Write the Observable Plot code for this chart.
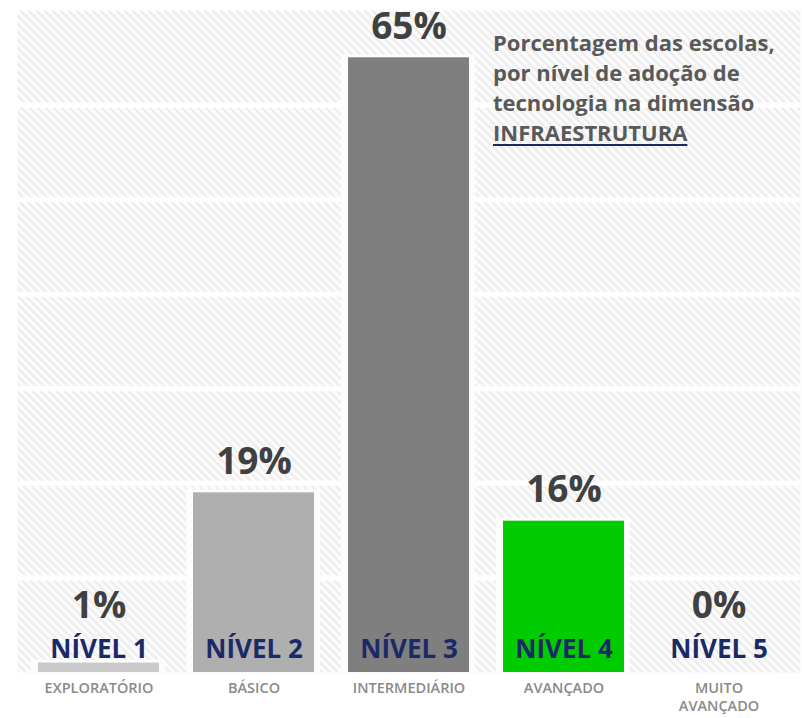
<!DOCTYPE html>
<html>
<head>
<meta charset="utf-8">
<script src="https://cdn.jsdelivr.net/npm/d3@7"></script>
<script src="https://cdn.jsdelivr.net/npm/@observablehq/plot@0.6"></script>
<style>
  html, body { margin: 0; padding: 0; background: #ffffff; }
  #wrap { position: relative; width: 802px; height: 718px; }
  #title {
    position: absolute; left: 493px; top: 27px;
    font-family: "Open Sans", sans-serif; font-weight: 700; font-size: 22px;
    line-height: 30px; color: #595959; white-space: nowrap;
  }
  #title u { text-decoration-color: #1b2a5e; text-decoration-thickness: 2px; text-underline-offset: 3px; }
</style>
</head>
<body>
<div id="wrap">
  <div id="chart"></div>
  <div id="title">Porcentagem das escolas,<br>por nível de adoção de<br>tecnologia na dimensão<br><u>INFRAESTRUTURA</u></div>
</div>
<script>
const levels = ["NÍVEL 1", "NÍVEL 2", "NÍVEL 3", "NÍVEL 4", "NÍVEL 5"];
const categories = ["EXPLORATÓRIO", "BÁSICO", "INTERMEDIÁRIO", "AVANÇADO", "MUITO\nAVANÇADO"];
const values = [1, 19, 65, 16, 0];
const colors = ["#cacaca", "#afafaf", "#7f7f7f", "#00cc00", "#cacaca"];
const gridTicks = [10, 20, 30, 40, 50, 60];

const data = levels.map((level, i) => ({
  level, category: categories[i], value: values[i], color: colors[i]
}));

const font = '"Open Sans", sans-serif';

const chart = Plot.plot({
  width: 802,
  height: 718,
  marginLeft: 17,
  marginRight: 2,
  marginTop: 10,
  marginBottom: 46,
  style: { fontFamily: font, background: "#ffffff" },
  x: { domain: levels, paddingInner: 0.218, paddingOuter: 0.12, axis: null },
  y: { domain: [0, 70], axis: null },
  marks: [
    Plot.frame({ fill: "url(#hatch)", stroke: null }),
    Plot.ruleY(gridTicks, { stroke: "#ffffff", strokeWidth: 5 }),
    Plot.barY(data.filter(d => d.value > 0), { x: "level", y: "value", fill: "#fdfdfd", insetLeft: -7, insetRight: -6, insetTop: -3 }),
    Plot.barY(data, { x: "level", y: "value", fill: "color" }),
    Plot.text(data, {
      x: "level", y: d => Math.max(d.value, 3.7), text: d => `${d.value}%`,
      dy: -31, lineAnchor: "middle", fontSize: 37, fontWeight: 700, fill: "#404040"
    }),
    Plot.text(data, {
      x: "level", text: "level", frameAnchor: "bottom", dy: -23, lineAnchor: "middle",
      fontSize: 26, fontWeight: 700, fill: "#1b2a66"
    }),
    Plot.text(data, {
      x: "level", text: "category", frameAnchor: "bottom", dy: 8, lineAnchor: "top",
      lineHeight: 1.22, fontSize: 14.5, fontWeight: 600, fill: "#8a8a8a"
    })
  ]
});

// hatch pattern for the plot background
const svg = d3.select(chart);
const defs = svg.insert("defs", ":first-child");
const pat = defs.append("pattern")
  .attr("id", "hatch")
  .attr("patternUnits", "userSpaceOnUse")
  .attr("width", 5.66).attr("height", 5.66)
  .attr("patternTransform", "rotate(-45)");
pat.append("rect").attr("width", 5.66).attr("height", 5.66).attr("fill", "#fcfcfc");
pat.append("rect").attr("width", 2.6).attr("height", 5.66).attr("fill", "#eeeeee");

document.getElementById("chart").appendChild(chart);
</script>
</body>
</html>
